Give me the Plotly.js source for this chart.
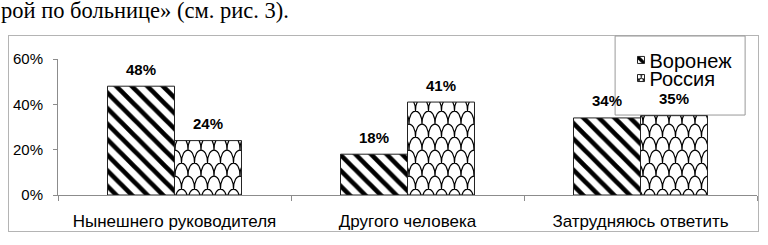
<!DOCTYPE html>
<html>
<head>
<meta charset="utf-8">
<script src="https://cdn.plot.ly/plotly-3.0.1.min.js"></script>
<style>
  html, body { margin: 0; padding: 0; background: #fff; }
  body { width: 768px; height: 245px; position: relative; overflow: hidden; }
  #header { position: absolute; left: 1px; top: -2px; font-family: "Liberation Serif", "Times New Roman", serif; font-size: 22.5px; line-height: 25px; color: #000; white-space: nowrap; }
  #frame { position: absolute; left: 8px; top: 35px; width: 751px; height: 197px; box-sizing: border-box; border: 1px solid #b4b4b4; }
  #chart { position: absolute; left: 0; top: 0; width: 768px; height: 245px; }
</style>
</head>
<body>
<div id="header">рой по больнице» (см. рис. 3).</div>
<div id="frame"></div>
<div id="chart"></div>
<script>
const categories = ["Нынешнего руководителя", "Другого человека", "Затрудняюсь ответить"];
const seriesNames = ["Воронеж", "Россия"];
const voronezh = [48, 18, 34];
const russia = [24, 41, 35];
const yTicks = [0, 20, 40, 60];
const yTickLabels = ["0%", "20%", "40%", "60%"];

const FONT = "Liberation Sans, Arial, sans-serif";

const traces = [
  {
    type: "bar", name: seriesNames[0], uid: "voronezh", x: categories, y: voronezh,
    marker: { color: "#fff", line: { color: "#222", width: 1 },
      pattern: { shape: "\\", size: 11, solidity: 0.42, fgcolor: "#000", bgcolor: "#fff", fillmode: "replace" } },
    legend: "legend", hoverinfo: "none"
  },
  {
    type: "bar", name: seriesNames[1], uid: "russia", x: categories, y: russia,
    marker: { color: "#fff", line: { color: "#222", width: 1 },
      pattern: { shape: "x", size: 13, solidity: 0.1, fgcolor: "#000", bgcolor: "#fff", fillmode: "replace" } },
    legend: "legend2", hoverinfo: "none"
  }
];

const halfBar = 33.5;
const annotations = [];
[voronezh, russia].forEach((vals, si) => {
  vals.forEach((v, i) => {
    annotations.push({
      x: categories[i], y: v, xref: "x", yref: "y",
      text: v + "%", showarrow: false,
      xshift: si === 0 ? -halfBar : halfBar, yshift: 17, yanchor: "middle",
      font: { family: FONT, size: 15, color: "#000", weight: "bold" }
    });
  });
});

const legendCommon = {
  bgcolor: "rgba(0,0,0,0)", borderwidth: 0,
  font: { family: FONT, size: 20, color: "#000" },
  xanchor: "left", yanchor: "middle", itemwidth: 30
};

const layout = {
  width: 768, height: 245,
  margin: { l: 58, r: 11, t: 59, b: 50 },
  paper_bgcolor: "rgba(0,0,0,0)", plot_bgcolor: "rgba(0,0,0,0)",
  barmode: "group", bargap: 0.425, bargroupgap: 0,
  showlegend: true,
  legend: Object.assign({ x: 0.789, y: 0.993 }, legendCommon),
  legend2: Object.assign({ x: 0.789, y: 0.86 }, legendCommon),
  xaxis: {
    type: "category", showline: true, linecolor: "#8c8c8c", linewidth: 1,
    ticks: "outside", tickson: "boundaries", ticklen: 5, tickcolor: "#8c8c8c",
    showgrid: false, zeroline: false, ticklabelstandoff: 11,
    tickfont: { family: FONT, size: 17, color: "#000" }, fixedrange: true
  },
  yaxis: {
    range: [0, 60], tickvals: yTicks, ticktext: yTickLabels,
    showline: true, linecolor: "#8c8c8c", linewidth: 1,
    ticks: "outside", ticklen: 4, tickcolor: "#8c8c8c",
    showgrid: false, zeroline: false, ticklabelstandoff: 7,
    tickfont: { family: FONT, size: 15, color: "#000" }, fixedrange: true
  },
  shapes: [{
    type: "rect", xref: "paper", yref: "paper", layer: "below",
    x0: 0.797, x1: 0.983, y0: 0.588, y1: 1.169,
    fillcolor: "#fff", line: { color: "#999", width: 1 }
  }],
  annotations: annotations
};

function fishScale(pat, scale) {
  const ns = "http://www.w3.org/2000/svg";
  const w = 13, h = 26;
  pat.setAttribute("width", w * scale);
  pat.setAttribute("height", h * scale);
  pat.setAttribute("patternUnits", "userSpaceOnUse");
  while (pat.firstChild) pat.removeChild(pat.firstChild);
  const g = document.createElementNS(ns, "g");
  g.setAttribute("transform", "scale(" + scale + ")");
  const rect = document.createElementNS(ns, "rect");
  rect.setAttribute("width", w); rect.setAttribute("height", h); rect.setAttribute("fill", "#fff");
  const path = document.createElementNS(ns, "path");
  path.setAttribute("d",
    "M0,13 C0,-4.3 13,-4.3 13,13 " +
    "M-6.5,26 C-6.5,8.7 6.5,8.7 6.5,26 " +
    "M6.5,26 C6.5,8.7 19.5,8.7 19.5,26");
  path.setAttribute("fill", "none");
  path.setAttribute("stroke", "#000");
  path.setAttribute("stroke-width", 1.2 / scale);
  g.appendChild(rect); g.appendChild(path);
  pat.appendChild(g);
}

Plotly.newPlot("chart", traces, layout, { displayModeBar: false, staticPlot: true }).then(gd => {
  gd.querySelectorAll("pattern").forEach(p => {
    const id = p.getAttribute("id") || "";
    if (id.indexOf("russia") >= 0) {
      fishScale(p, id.indexOf("legend") >= 0 ? 0.45 : 1);
    }
  });
  gd.querySelectorAll(".legendpoints path").forEach(p => {
    p.setAttribute("d", "M15,3.5H8V-3.5H15Z");
  });
});
</script>
</body>
</html>
